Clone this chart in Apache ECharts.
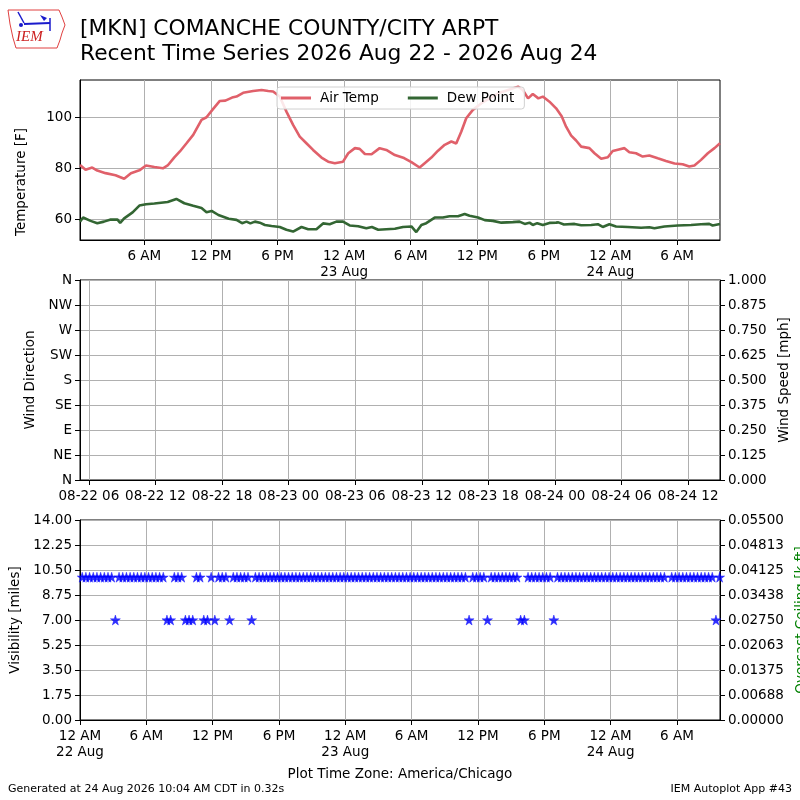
<!DOCTYPE html>
<html>
<head>
<meta charset="utf-8">
<title>[MKN] Recent Time Series</title>
<script src="https://cdn.jsdelivr.net/npm/echarts@6/dist/echarts.min.js"></script>
<style>
  html, body { margin: 0; padding: 0; background: #fff; }
  #main { width: 800px; height: 800px; }
</style>
</head>
<body>
<div id="main"></div>
<script>
// hours after 22 Aug 00:00 CDT
var tempHours = [0.2, 0.7, 1.3, 1.76, 2.5, 3.4, 4.18, 4.79, 5.55, 6.15, 6.9, 7.67, 8.1, 8.7, 9.2, 9.8,
  10.4, 11.15, 11.6, 12.2, 12.8, 13.3, 13.9, 14.3, 14.9, 15.8, 16.56, 17.16, 17.6, 18.2, 18.8, 19.4,
  20.0, 20.6, 21.2, 21.96, 22.56, 23.16, 23.9, 24.37, 24.97, 25.4, 25.87, 26.47, 27.2, 27.8, 28.57,
  29.4, 30.06, 30.8, 31.26, 31.86, 32.46, 33.06, 33.66, 34.1, 34.56, 35.0, 35.6, 36.37, 37.1, 37.87,
  38.77, 39.67, 40.1, 40.57, 41.0, 41.5, 41.9, 42.5, 43.1, 43.6, 44.0, 44.46, 44.9, 45.36, 46.1,
  46.56, 47.16, 47.76, 48.2, 48.66, 49.26, 49.7, 50.3, 50.9, 51.5, 52.26, 53.0, 53.77, 54.5, 55.1,
  55.56, 56.16, 56.77, 57.37, 57.867];
var tempF = [81.3, 79.4, 80.3, 79.1, 78.1, 77.3, 75.9, 78.1, 79.2, 81.1, 80.5, 80.0, 81.1, 84.3, 86.6, 89.8,
  93.1, 99.0, 100.0, 103.3, 106.4, 106.5, 107.7, 108.1, 109.6, 110.3, 110.7, 110.3, 110.1, 108.1, 102.2, 97.0,
  92.4, 89.8, 87.2, 84.2, 82.6, 82.0, 82.6, 85.9, 87.9, 87.6, 85.6, 85.5, 87.9, 87.2, 85.2,
  84.0, 82.4, 80.3, 82.0, 84.2, 86.9, 89.2, 90.5, 89.7, 94.4, 99.6, 102.9, 105.5, 107.4, 109.4,
  110.7, 112.0, 110.7, 107.4, 109.1, 107.4, 108.1, 106.1, 103.5, 100.4, 96.3, 92.8, 90.9, 88.5, 87.9,
  85.9, 83.7, 84.3, 86.8, 87.3, 87.9, 86.3, 85.9, 84.6, 85.0, 83.9, 82.9, 81.9, 81.6, 80.7,
  81.1, 83.3, 85.9, 87.9, 89.8];

var dewHours = [0.2, 0.48, 1.15, 1.76, 2.36, 2.97, 3.58, 3.82, 4.18, 4.94, 5.55, 6.15, 6.9, 8.1, 8.88, 9.6,
  10.4, 11.15, 11.6, 12.06, 12.67, 13.6, 14.3, 14.8, 15.2, 15.55, 15.96, 16.4, 16.86, 17.46, 18.2, 18.8,
  19.4, 20.16, 20.76, 21.5, 22.1, 22.7, 23.3, 23.9, 24.5, 25.27, 26.0, 26.5, 27.07, 27.8, 28.57, 29.3,
  30.06, 30.5, 30.96, 31.4, 32.16, 32.9, 33.5, 34.26, 34.86, 35.3, 36.07, 36.67, 37.4, 38.17, 39.2,
  39.8, 40.27, 40.7, 41.0, 41.4, 41.9, 42.5, 43.1, 43.3, 43.8, 44.76, 45.36, 46.26, 46.86, 47.3, 47.9,
  48.5, 49.56, 50.76, 51.5, 51.96, 52.86, 54.06, 55.26, 56.16, 56.9, 57.2, 57.867];
var dewF = [59.1, 60.7, 59.4, 58.5, 59.1, 59.9, 59.9, 58.6, 60.4, 62.7, 65.4, 65.9, 66.2, 66.8, 68.0, 66.3,
  65.3, 64.4, 62.8, 63.3, 61.7, 60.2, 59.8, 58.5, 59.1, 58.4, 59.1, 58.7, 57.8, 57.4, 57.0, 55.9,
  55.2, 57.0, 56.1, 56.1, 58.4, 58.1, 59.1, 59.1, 57.6, 57.3, 56.5, 57.0, 55.9, 56.1, 56.3, 57.0,
  57.2, 55.0, 57.8, 58.5, 60.7, 60.7, 61.2, 61.2, 62.1, 61.4, 60.7, 59.7, 59.4, 58.7, 58.9,
  59.1, 58.2, 58.7, 57.8, 58.5, 57.8, 58.6, 58.7, 58.8, 58.0, 58.2, 57.7, 57.8, 58.1, 57.0, 58.1,
  57.2, 57.0, 56.7, 56.9, 56.5, 57.2, 57.6, 57.8, 58.1, 58.2, 57.6, 58.2];

// visibility observations, minutes after 22 Aug 00:00 CDT (4 hours per row)
var obsMinutes = [
  12, 32, 52, 72, 92, 112, 132, 152, 172, 192, 212, 232,
  252, 272, 292, 312, 332, 352, 372, 392, 412, 432, 452, 472,
  492, 512, 532, 552, 572, 592, 612, 632, 652, 672, 692, 712,
  732, 752, 772, 792, 812, 832, 852, 872, 892, 912, 932, 952,
  972, 992, 1012, 1032, 1052, 1072, 1092, 1112, 1132, 1152, 1172, 1192,
  1212, 1232, 1252, 1272, 1292, 1312, 1332, 1352, 1372, 1392, 1412, 1432,
  1452, 1472, 1492, 1512, 1532, 1552, 1572, 1592, 1612, 1632, 1652, 1672,
  1692, 1712, 1732, 1752, 1772, 1792, 1812, 1832, 1852, 1872, 1892, 1912,
  1932, 1952, 1972, 1992, 2012, 2032, 2052, 2072, 2092, 2112, 2132, 2152,
  2172, 2192, 2212, 2232, 2252, 2272, 2292, 2312, 2332, 2352, 2372, 2392,
  2412, 2432, 2452, 2472, 2492, 2512, 2532, 2552, 2572, 2592, 2612, 2632,
  2652, 2672, 2692, 2712, 2732, 2752, 2772, 2792, 2812, 2832, 2852, 2872,
  2892, 2912, 2932, 2952, 2972, 2992, 3012, 3032, 3052, 3072, 3092, 3112,
  3132, 3152, 3172, 3192, 3212, 3232, 3252, 3272, 3292, 3312, 3332, 3352,
  3372, 3392, 3412, 3432, 3452, 3472];
var visMiles = [
  10, 10, 10, 10, 10, 10, 10, 10, 10, 7, 10, 10,
  10, 10, 10, 10, 10, 10, 10, 10, 10, 10, 10, 7,
  7, 10, 10, 10, 7, 7, 7, 10, 10, 7, 7, 10,
  7, 10, 10, 10, 7, 10, 10, 10, 10, 10, 7, 10,
  10, 10, 10, 10, 10, 10, 10, 10, 10, 10, 10, 10,
  10, 10, 10, 10, 10, 10, 10, 10, 10, 10, 10, 10,
  10, 10, 10, 10, 10, 10, 10, 10, 10, 10, 10, 10,
  10, 10, 10, 10, 10, 10, 10, 10, 10, 10, 10, 10,
  10, 10, 10, 10, 10, 10, 10, 10, 10, 7, 10, 10,
  10, 10, 7, 10, 10, 10, 10, 10, 10, 10, 10, 7,
  7, 10, 10, 10, 10, 10, 10, 10, 7, 10, 10, 10,
  10, 10, 10, 10, 10, 10, 10, 10, 10, 10, 10, 10,
  10, 10, 10, 10, 10, 10, 10, 10, 10, 10, 10, 10,
  10, 10, 10, null, 10, 10, 10, 10, 10, 10, 10, 10,
  10, 10, 10, 10, 7, 10];

// tick positions (hours after 22 Aug 00:00 CDT) and labels
var cdtTickHours = [0, 6, 12, 18, 24, 30, 36, 42, 48, 54];
var cdtTickLabels = ['12 AM\n22 Aug', '6 AM', '12 PM', '6 PM', '12 AM\n23 Aug', '6 AM', '12 PM', '6 PM', '12 AM\n24 Aug', '6 AM'];
var utcTickHours = [1, 7, 13, 19, 25, 31, 37, 43, 49, 55];
var utcTickLabels = ['08-22 06', '08-22 12', '08-22 18', '08-23 00', '08-23 06', '08-23 12', '08-23 18', '08-24 00', '08-24 06', '08-24 12'];
var tempTicks = [60, 80, 100];
var dirLabels = ['N', 'NE', 'E', 'SE', 'S', 'SW', 'W', 'NW', 'N'];

var FONT = 'DejaVu Sans';
var FS = 13.5;

function pairs(xs, ys) {
  var out = [];
  for (var i = 0; i < xs.length; i++) out.push([xs[i], ys[i]]);
  return out;
}
var visData = [];
obsMinutes.forEach(function (m, i) {
  if (visMiles[i] != null) visData.push([m / 60, visMiles[i]]);
});

function lookup(v, ticks, labels) {
  for (var i = 0; i < ticks.length; i++) {
    if (Math.abs(ticks[i] - v) < 1e-6) return labels[i];
  }
  return '';
}

function xAxis(grid, min, max, ticks, labels) {
  return {
    type: 'value', gridIndex: grid, min: min, max: max,
    axisLine: { show: true, onZero: false, lineStyle: { color: '#000', width: 1 } },
    axisTick: { show: true, length: 5, customValues: ticks, lineStyle: { color: '#000', width: 1 } },
    axisLabel: {
      customValues: ticks, margin: 8, color: '#000', fontSize: FS, fontFamily: FONT, lineHeight: 16,
      formatter: function (v) { return lookup(v, ticks, labels); }
    },
    splitLine: { show: true, lineStyle: { color: '#b0b0b0', width: 1 } }
  };
}

function yAxis(grid, opts) {
  var ax = {
    type: 'value', gridIndex: grid,
    axisLine: { show: true, lineStyle: { color: '#000', width: 1 } },
    axisTick: { show: true, length: 5, lineStyle: { color: '#000', width: 1 } },
    axisLabel: { margin: 8, color: '#000', fontSize: FS, fontFamily: FONT },
    splitLine: { show: true, lineStyle: { color: '#b0b0b0', width: 1 } },
    nameLocation: 'middle', nameRotate: 90,
    nameTextStyle: { color: '#000', fontSize: FS, fontFamily: FONT }
  };
  for (var k in opts) {
    if (typeof opts[k] === 'object' && !Array.isArray(opts[k]) && ax[k]) {
      for (var j in opts[k]) ax[k][j] = opts[k][j];
    } else {
      ax[k] = opts[k];
    }
  }
  return ax;
}

var star = 'path://M50,0 L61,35 L98,35 L68,57 L79,91 L50,70 L21,91 L32,57 L2,35 L39,35 Z';

var myChart = echarts.init(document.getElementById('main'), null, { renderer: 'canvas' });

var option = {
  backgroundColor: '#fff',
  animation: false,
  title: [
    {
      text: '[MKN] COMANCHE COUNTY/CITY ARPT\nRecent Time Series 2026 Aug 22 - 2026 Aug 24',
      left: 80, top: 17, padding: 0,
      textStyle: { fontSize: 21.8, fontWeight: 'normal', lineHeight: 25, color: '#000', fontFamily: FONT }
    },
    {
      text: 'Plot Time Zone: America/Chicago', left: 'center', top: 766, padding: 0,
      textStyle: { fontSize: FS, fontWeight: 'normal', lineHeight: 16, color: '#000', fontFamily: FONT }
    },
    {
      text: 'Generated at 24 Aug 2026 10:04 AM CDT in 0.32s', left: 8, top: 782, padding: 0,
      textStyle: { fontSize: 11, fontWeight: 'normal', lineHeight: 14, color: '#000', fontFamily: FONT }
    },
    {
      text: 'IEM Autoplot App #43', right: 8, top: 782, padding: 0,
      textStyle: { fontSize: 11, fontWeight: 'normal', lineHeight: 14, color: '#000', fontFamily: FONT }
    }
  ],
  legend: {
    left: 277, top: 87, padding: [4, 10, 4, 4],
    itemWidth: 30, itemHeight: 3, itemGap: 29,
    backgroundColor: 'rgba(255,255,255,0.85)', borderColor: '#d0d0d0', borderWidth: 1, borderRadius: 3,
    textStyle: { fontSize: FS, fontFamily: FONT, color: '#000', padding: [0, 0, 0, 4] },
    data: [{ name: 'Air Temp', icon: 'rect' }, { name: 'Dew Point', icon: 'rect' }]
  },
  grid: [
    { left: 80, top: 80, width: 640, height: 160, show: true, borderColor: '#000', borderWidth: 1, containLabel: false, outerBoundsMode: 'none' },
    { left: 80, top: 280, width: 640, height: 200, show: true, borderColor: '#000', borderWidth: 1, containLabel: false, outerBoundsMode: 'none' },
    { left: 80, top: 520, width: 640, height: 200, show: true, borderColor: '#000', borderWidth: 1, containLabel: false, outerBoundsMode: 'none' }
  ],
  xAxis: [
    xAxis(0, 0.2, 57.867, cdtTickHours.slice(1), cdtTickLabels.slice(1)),
    xAxis(1, 0.2, 57.867, utcTickHours, utcTickLabels),
    xAxis(2, 0, 57.9, cdtTickHours, cdtTickLabels)
  ],
  yAxis: [
    yAxis(0, {
      min: 51.9, max: 114.6, name: 'Temperature [F]', nameGap: 52,
      axisTick: { customValues: tempTicks },
      axisLabel: { customValues: tempTicks },
      nameTextStyle: { padding: [0, 44, 0, 0] }
    }),
    yAxis(1, {
      min: 0, max: 360, interval: 45, name: 'Wind Direction', nameGap: 40,
      axisLabel: { formatter: function (v) { return dirLabels[Math.round(v / 45)]; } }
    }),
    yAxis(1, {
      min: 0, max: 1, interval: 0.125, position: 'right', name: 'Wind Speed [mph]', nameGap: 54,
      splitLine: { show: false },
      axisLabel: { formatter: function (v) { return (v + 1e-9).toFixed(3); } }
    }),
    yAxis(2, {
      min: 0, max: 14, interval: 1.75, name: 'Visibility [miles]', nameGap: 53,
      axisLabel: { formatter: function (v) { return (v + 1e-9).toFixed(2); } }
    }),
    yAxis(2, {
      min: 0, max: 0.055, interval: 0.006875, position: 'right', name: 'Overcast Ceiling [k ft]', nameGap: 71,
      splitLine: { show: false },
      axisLabel: { formatter: function (v) { return (v + 1e-9).toFixed(5); } },
      nameTextStyle: { color: '#008000' }
    })
  ],
  series: [
    {
      name: 'Air Temp', type: 'line', xAxisIndex: 0, yAxisIndex: 0, symbol: 'none',
      data: pairs(tempHours, tempF), color: '#e0606a',
      lineStyle: { width: 2.6, color: '#e0606a' }, z: 3
    },
    {
      name: 'Dew Point', type: 'line', xAxisIndex: 0, yAxisIndex: 0, symbol: 'none',
      data: pairs(dewHours, dewF), color: '#336633',
      lineStyle: { width: 2.6, color: '#336633' }, z: 3
    },
    {
      name: 'Wind', type: 'line', xAxisIndex: 1, yAxisIndex: 1, symbol: 'none', data: []
    },
    {
      name: 'Visibility', type: 'scatter', xAxisIndex: 2, yAxisIndex: 3,
      symbol: star, symbolSize: 10, data: visData,
      itemStyle: { color: '#0000ff', borderColor: '#0000ff', borderWidth: 0.5 }
    }
  ],
  graphic: [
    {
      type: 'polyline', silent: true,
      shape: { points: [[8, 10], [59, 10], [62, 17], [65, 25], [62, 33], [60, 40], [57, 48], [16, 48], [13, 38], [10, 24], [8, 10]] },
      style: { stroke: '#e04040', fill: null, lineWidth: 1 }
    },
    {
      type: 'text', silent: true,
      style: { text: 'IEM', x: 16, y: 30, fontSize: 15, fontStyle: 'italic', fontFamily: 'Liberation Serif', fill: '#cc2020' }
    },
    { type: 'line', silent: true, shape: { x1: 24, y1: 24, x2: 50, y2: 23 }, style: { stroke: '#1a1acc', lineWidth: 2 } },
    { type: 'line', silent: true, shape: { x1: 18, y1: 12, x2: 24, y2: 23 }, style: { stroke: '#1a1acc', lineWidth: 1.5 } },
    { type: 'circle', silent: true, shape: { cx: 21, cy: 25, r: 2 }, style: { fill: '#1a1acc' } },
    { type: 'polygon', silent: true, shape: { points: [[40, 15], [47, 18], [44, 21]] }, style: { fill: '#1a1acc' } },
    { type: 'line', silent: true, shape: { x1: 50, y1: 18, x2: 50, y2: 31 }, style: { stroke: '#1a1acc', lineWidth: 1.5 } }
  ]
};

myChart.setOption(option);
</script>
</body>
</html>
